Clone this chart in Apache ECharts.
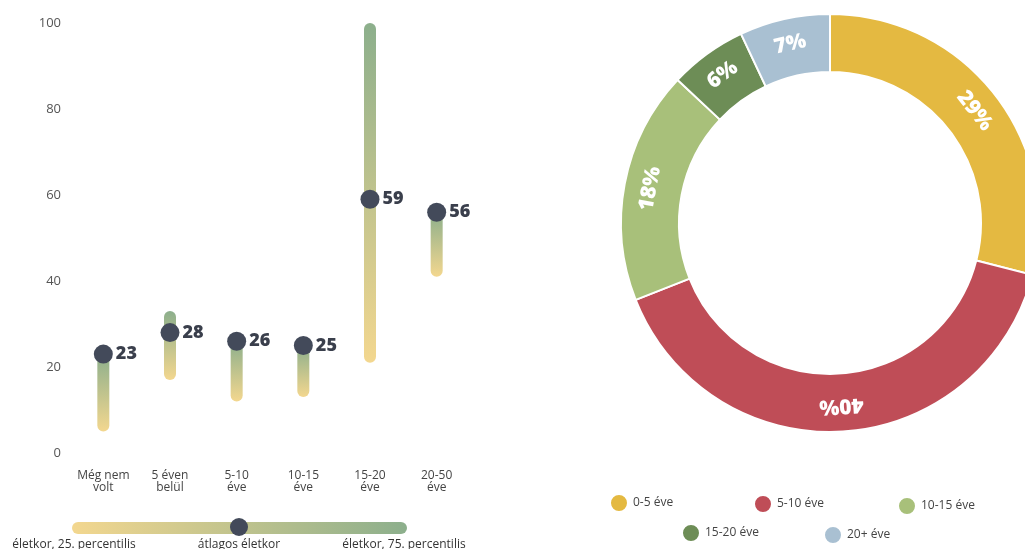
<!DOCTYPE html>
<html>
<head>
<meta charset="utf-8">
<script src="https://cdn.jsdelivr.net/npm/echarts@6/dist/echarts.min.js"></script>
<style>
  html, body { margin: 0; padding: 0; background: #ffffff; }
  #chart { width: 1025px; height: 549px; }
</style>
</head>
<body>
<div id="chart"></div>
<script>
// Age ranges by time since the event: 25th percentile, 75th percentile and mean age
const categories = ['Még nem\nvolt', '5 éven\nbelül', '5-10\néve', '10-15\néve', '15-20\néve', '20-50\néve'];
const agePct25 = [5, 17, 12, 13, 21, 41];
const agePct75 = [23, 33, 26, 25, 100, 56];
const ageMean = [23, 28, 26, 25, 59, 56];

// Share of respondents by time since the event
const shareNames = ['0-5 éve', '5-10 éve', '10-15 éve', '15-20 éve', '20+ éve'];
const shareValues = [29, 40, 18, 6, 7];
const shareColors = ['#e4b941', '#bf4d57', '#a8c07a', '#6d8d56', '#a9c0d2'];

// Legend labels for the range marks
const rangeLegend = ['életkor, 25. percentilis', 'átlagos életkor', 'életkor, 75. percentilis'];

const FONT = "'Open Sans', 'DejaVu Sans', sans-serif";
const YELLOW = '#f3d78f';
const GREEN = '#8caf8c';

const rangeGradient = {
  type: 'linear', x: 0, y: 0, x2: 0, y2: 1,
  colorStops: [{ offset: 0, color: GREEN }, { offset: 1, color: YELLOW }]
};

// Labels follow the ring clockwise, tops facing outward
const total = shareValues.reduce((a, b) => a + b, 0);
let acc = 0;
const pieData = shareValues.map((v, i) => {
  const mid = (acc + v / 2) / total * 360;
  acc += v;
  return {
    name: shareNames[i],
    value: v,
    itemStyle: { color: shareColors[i] },
    label: { rotate: -mid }
  };
});

// One legend box per pie entry, laid out in two rows
const legendSpots = [[609, 493], [753, 494], [897, 496], [681, 523], [823, 525]];
const pieLegends = shareNames.map((name, i) => ({
  data: [name],
  left: legendSpots[i][0],
  top: legendSpots[i][1],
  padding: 0,
  icon: 'circle',
  itemWidth: 18,
  itemHeight: 18,
  itemGap: 5,
  textStyle: { color: '#444', fontSize: 12, fontFamily: FONT },
  selectedMode: false
}));

const chart = echarts.init(document.getElementById('chart'), null, { renderer: 'canvas' });

chart.setOption({
  animation: false,
  backgroundColor: '#ffffff',
  textStyle: { fontFamily: FONT },
  grid: { left: 70, top: 23, width: 400, height: 430, containLabel: false },
  xAxis: {
    type: 'category',
    data: categories,
    axisLine: { show: false },
    axisTick: { show: false },
    splitLine: { show: false },
    axisLabel: { color: '#444', fontSize: 12, lineHeight: 12, margin: 17, fontFamily: FONT, interval: 0 }
  },
  yAxis: {
    type: 'value',
    min: 0, max: 100, interval: 20,
    axisLine: { show: false },
    axisTick: { show: false },
    splitLine: { show: false },
    axisLabel: { color: '#555', fontSize: 13, margin: 9, fontFamily: FONT }
  },
  legend: pieLegends,
  series: [
    {
      name: 'base',
      type: 'bar',
      stack: 'range',
      barWidth: 12,
      silent: true,
      itemStyle: { color: 'transparent' },
      data: agePct25
    },
    {
      name: 'range',
      type: 'bar',
      stack: 'range',
      barWidth: 12,
      silent: true,
      itemStyle: { color: rangeGradient, borderRadius: 6 },
      data: agePct75.map((v, i) => v - agePct25[i])
    },
    {
      name: 'mean',
      type: 'scatter',
      symbol: 'circle',
      symbolSize: 19,
      z: 5,
      itemStyle: { color: '#434a5a', opacity: 1 },
      label: {
        show: true,
        position: 'right',
        distance: 3,
        color: '#3a3f4c',
        fontSize: 18,
        fontWeight: 800,
        fontFamily: FONT
      },
      data: ageMean
    },
    {
      name: 'share',
      type: 'pie',
      center: [830, 223],
      radius: [151, 209],
      startAngle: 90,
      clockwise: true,
      avoidLabelOverlap: false,
      itemStyle: { borderColor: '#ffffff', borderWidth: 2 },
      label: {
        show: true,
        position: 'inside',
        formatter: '{c}%',
        color: '#ffffff',
        fontSize: 21,
        fontWeight: 900,
        fontFamily: FONT
      },
      labelLine: { show: false },
      emphasis: { disabled: true },
      data: pieData
    }
  ],
  graphic: [
    {
      type: 'rect',
      shape: { x: 72, y: 522, width: 335, height: 12, r: 6 },
      style: {
        fill: {
          type: 'linear', x: 0, y: 0, x2: 1, y2: 0,
          colorStops: [{ offset: 0, color: YELLOW }, { offset: 1, color: GREEN }]
        }
      }
    },
    {
      type: 'circle',
      shape: { cx: 239, cy: 527, r: 9 },
      style: { fill: '#434a5a' }
    },
    {
      type: 'text', x: 74, y: 539,
      style: { text: rangeLegend[0], fill: '#333', font: '12px ' + FONT, textAlign: 'center', textVerticalAlign: 'top' }
    },
    {
      type: 'text', x: 239, y: 539,
      style: { text: rangeLegend[1], fill: '#333', font: '12px ' + FONT, textAlign: 'center', textVerticalAlign: 'top' }
    },
    {
      type: 'text', x: 404, y: 539,
      style: { text: rangeLegend[2], fill: '#333', font: '12px ' + FONT, textAlign: 'center', textVerticalAlign: 'top' }
    }
  ]
});
</script>
</body>
</html>
